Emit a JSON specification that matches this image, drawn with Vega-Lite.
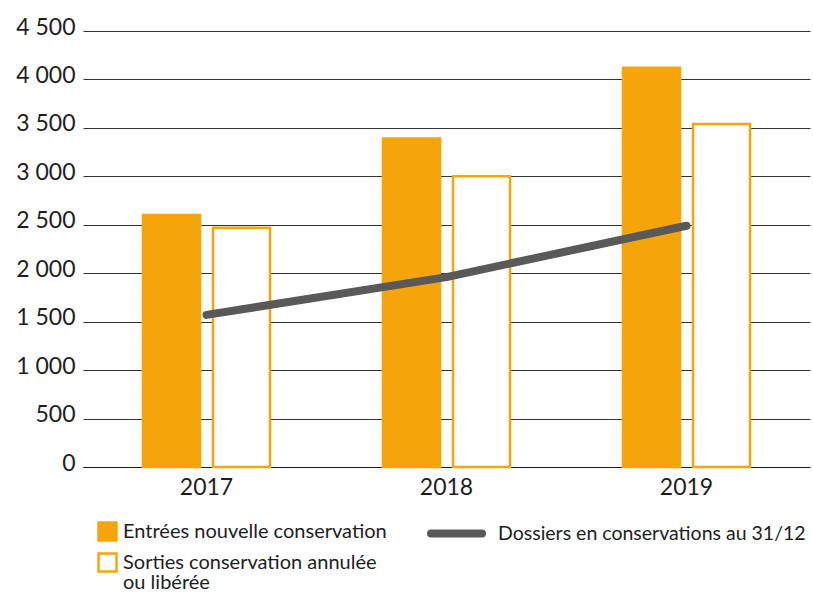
{
  "$schema": "https://vega.github.io/schema/vega-lite/v6.json",
  "width": 727,
  "height": 436,
  "autosize": "none",
  "padding": {"left": 83, "top": 31, "right": 3, "bottom": 126},
  "background": "#FFFFFF",
  "config": {
    "view": {"stroke": null},
    "font": "Lato",
    "axis": {"labelFont": "Lato", "labelColor": "#1E1E1E"},
    "legend": {"labelFont": "Lato", "labelColor": "#1E1E1E"}
  },
  "datasets": {
    "bars": [
      {"year": "2017", "series": "Entrées nouvelle conservation", "value": 2600},
      {"year": "2017", "series": "Sorties conservation annulée ou libérée", "value": 2470},
      {"year": "2018", "series": "Entrées nouvelle conservation", "value": 3390},
      {"year": "2018", "series": "Sorties conservation annulée ou libérée", "value": 3000},
      {"year": "2019", "series": "Entrées nouvelle conservation", "value": 4120},
      {"year": "2019", "series": "Sorties conservation annulée ou libérée", "value": 3540}
    ],
    "line": [
      {"year": "2017", "series": "Dossiers en conservations au 31/12", "value": 1570},
      {"year": "2018", "series": "Dossiers en conservations au 31/12", "value": 1960},
      {"year": "2019", "series": "Dossiers en conservations au 31/12", "value": 2490}
    ]
  },
  "layer": [
    {
      "data": {"name": "bars"},
      "mark": {"type": "bar", "stroke": "#F5A50A", "strokeWidth": 2.5},
      "encoding": {
        "x": {
          "field": "year",
          "type": "ordinal",
          "scale": {"paddingInner": 0.471, "paddingOuter": 0.25},
          "axis": {
            "title": null,
            "labelAngle": 0,
            "labelFontSize": 23,
            "labelPadding": 9,
            "ticks": false,
            "domain": true,
            "domainColor": "#1E1E1E",
            "domainWidth": 1.2,
            "grid": false
          }
        },
        "xOffset": {
          "field": "series",
          "sort": ["Entrées nouvelle conservation", "Sorties conservation annulée ou libérée"],
          "scale": {"paddingInner": 0.186, "paddingOuter": 0}
        },
        "y": {
          "field": "value",
          "type": "quantitative",
          "scale": {"domain": [0, 4500], "nice": false},
          "axis": {
            "title": null,
            "values": [0, 500, 1000, 1500, 2000, 2500, 3000, 3500, 4000, 4500],
            "labelExpr": "replace(format(datum.value, ','), ',', ' ')",
            "labelFontSize": 23,
            "labelPadding": 8,
            "labelOffset": -4,
            "ticks": false,
            "domain": false,
            "grid": true,
            "gridColor": "#333333",
            "gridWidth": 1.2
          }
        },
        "fill": {
          "field": "series",
          "type": "nominal",
          "scale": {
            "domain": ["Entrées nouvelle conservation", "Sorties conservation annulée ou libérée"],
            "range": ["#F5A50A", "#FFFFFF"]
          },
          "legend": {
            "orient": "none",
            "legendX": 14,
            "legendY": 490,
            "title": null,
            "padding": 0,
            "direction": "vertical",
            "symbolType": "square",
            "symbolSize": 324,
            "symbolStrokeColor": "#F5A50A",
            "symbolStrokeWidth": 2.5,
            "labelFontSize": 20,
            "labelOffset": 5,
            "labelLimit": 400,
            "rowPadding": 2,
            "labelBaseline": "top",
            "labelExpr": "datum.label == 'Sorties conservation annulée ou libérée' ? ['Sorties conservation annulée', 'ou libérée'] : datum.label",
            "encode": {"labels": {"update": {"dy": {"value": -10}, "lineHeight": {"value": 20}}}}
          }
        }
      }
    },
    {
      "data": {"name": "line"},
      "mark": {"type": "line", "strokeWidth": 8, "strokeCap": "round", "strokeJoin": "round"},
      "encoding": {
        "x": {"field": "year", "type": "ordinal"},
        "y": {"field": "value", "type": "quantitative"},
        "stroke": {
          "field": "series",
          "type": "nominal",
          "scale": {"range": ["#595959"]},
          "legend": {
            "orient": "none",
            "legendX": 344,
            "legendY": 473,
            "title": null,
            "padding": 0,
            "symbolType": "stroke",
            "symbolSize": 2601,
            "symbolStrokeWidth": 8,
            "labelFontSize": 19.5,
            "labelOffset": 12,
            "labelLimit": 400,
            "encode": {"symbols": {"update": {"strokeCap": {"value": "round"}}}}
          }
        }
      }
    }
  ]
}
